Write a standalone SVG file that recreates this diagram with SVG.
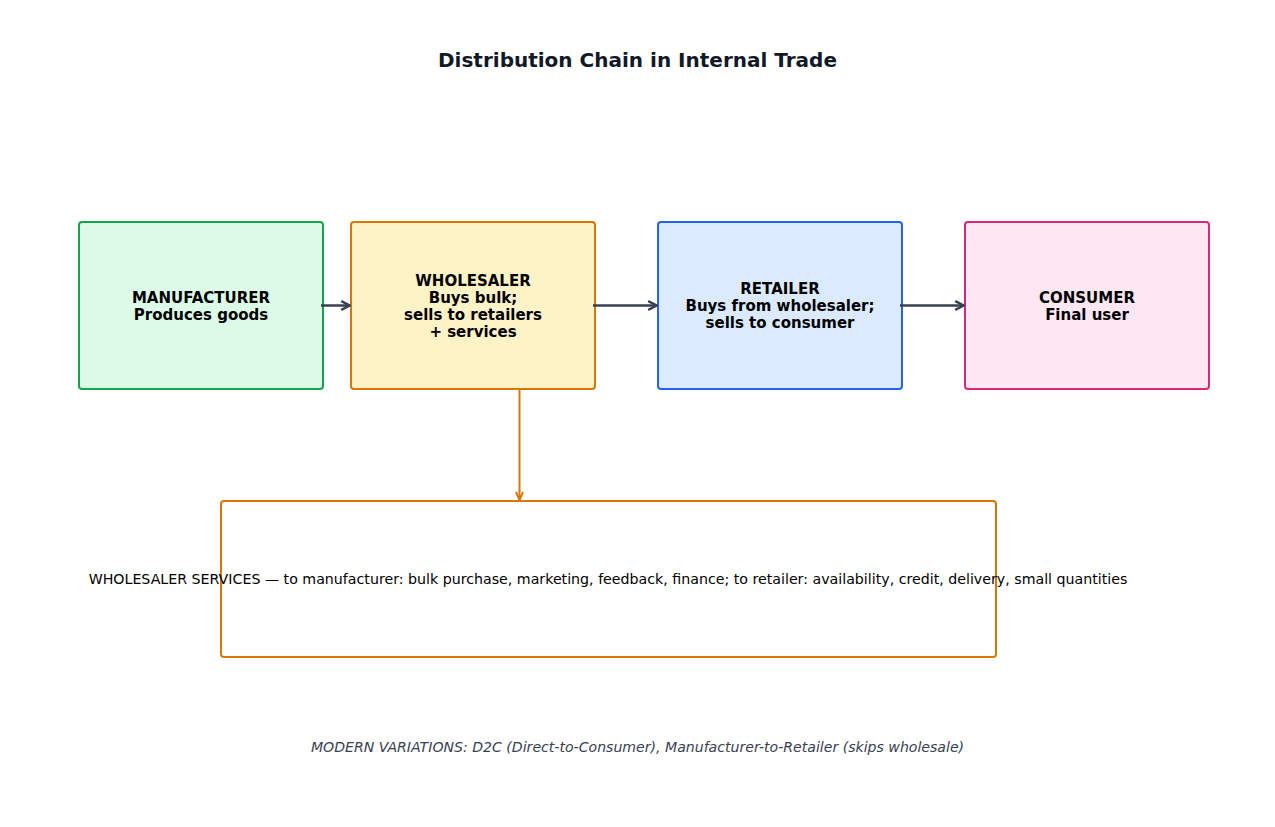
<svg xmlns="http://www.w3.org/2000/svg" width="1275" height="827" viewBox="0 0 1275 827">
<style>
.node{stroke-width:2}
.nt{font-family:"DejaVu Sans",sans-serif;font-size:15px;font-weight:bold;fill:#000;text-anchor:middle}
.title{font-family:"DejaVu Sans",sans-serif;font-size:20px;font-weight:bold;fill:#111827;text-anchor:middle}
.body{font-family:"DejaVu Sans",sans-serif;font-size:14.2px;fill:#000;text-anchor:middle}
.foot{font-family:"DejaVu Sans",sans-serif;font-size:14.1px;font-style:italic;fill:#374151;text-anchor:middle}
.conn{fill:none;stroke:#374151;stroke-width:2.5}
.conno{fill:none;stroke:#d97706;stroke-width:2}
</style>
<defs>
<marker id="ah" viewBox="0 0 10 10" refX="9" refY="5" markerWidth="4.4" markerHeight="4.4" orient="auto" markerUnits="strokeWidth">
<path d="M1,1 L9,5 L1,9" fill="none" stroke="#374151" stroke-width="2.2" stroke-linejoin="miter"/>
</marker>
<marker id="aho" viewBox="0 0 10 10" refX="9" refY="5" markerWidth="5" markerHeight="5" orient="auto" markerUnits="strokeWidth">
<path d="M1,1.5 L9,5 L1,8.5" fill="none" stroke="#d97706" stroke-width="2"/>
</marker>
</defs>
<rect width="1275" height="827" fill="#fff"/>
<text class="title" x="637.5" y="67">Distribution Chain in Internal Trade</text>
<g id="manufacturer">
<rect class="node" x="79" y="222" width="244" height="167" rx="3" fill="#dcfce7" stroke="#16a34a"/>
<text class="nt" x="201" y="303">MANUFACTURER</text>
<text class="nt" x="201" y="320">Produces goods</text>
</g>
<g id="wholesaler">
<rect class="node" x="351" y="222" width="244" height="167" rx="3" fill="#fef3c7" stroke="#d97706"/>
<text class="nt" x="473" y="286">WHOLESALER</text>
<text class="nt" x="473" y="303">Buys bulk;</text>
<text class="nt" x="473" y="320">sells to retailers</text>
<text class="nt" x="473" y="337">+ services</text>
</g>
<g id="retailer">
<rect class="node" x="658" y="222" width="244" height="167" rx="3" fill="#dbeafe" stroke="#2563eb"/>
<text class="nt" x="780" y="294">RETAILER</text>
<text class="nt" x="780" y="311">Buys from wholesaler;</text>
<text class="nt" x="780" y="328">sells to consumer</text>
</g>
<g id="consumer">
<rect class="node" x="965" y="222" width="244" height="167" rx="3" fill="#fce7f3" stroke="#db2777"/>
<text class="nt" x="1087" y="303">CONSUMER</text>
<text class="nt" x="1087" y="320">Final user</text>
</g>
<g id="services">
<rect class="node" x="221" y="501" width="775" height="156" rx="3" fill="#fff" stroke="#d97706"/>
</g>
<g id="connectors">
<line class="conn" x1="321" y1="305.5" x2="350" y2="305.5" marker-end="url(#ah)"/>
<line class="conn" x1="593" y1="305.5" x2="657" y2="305.5" marker-end="url(#ah)"/>
<line class="conn" x1="900" y1="305.5" x2="964" y2="305.5" marker-end="url(#ah)"/>
<line class="conno" x1="519.5" y1="389" x2="519.5" y2="500" marker-end="url(#aho)"/>
</g>
<text class="body" x="608" y="584">WHOLESALER SERVICES — to manufacturer: bulk purchase, marketing, feedback, finance; to retailer: availability, credit, delivery, small quantities</text>
<text class="foot" x="637.5" y="752">MODERN VARIATIONS: D2C (Direct-to-Consumer), Manufacturer-to-Retailer (skips wholesale)</text>
</svg>
